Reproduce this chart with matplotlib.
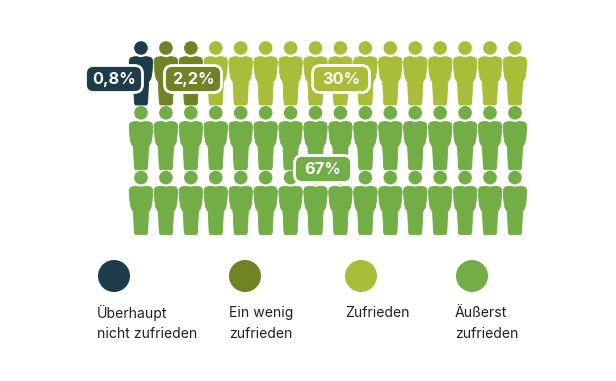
import matplotlib
matplotlib.use("Agg")
import matplotlib.pyplot as plt
from matplotlib.patches import Circle, Polygon, FancyBboxPatch

plt.rcParams['font.family'] = ['Inter', 'DejaVu Sans']

categorias = ["Überhaupt\nnicht zufrieden", "Ein wenig\nzufrieden", "Zufrieden", "Äußerst\nzufrieden"]
cores = ["#1b3c48", "#6f8224", "#a9bd38", "#72ad45"]
contagem = [1, 2, 13, 32]
percentuais = ["0,8%", "2,2%", "30%", "67%"]

colunas = 16
passo_x = 24.93
passo_y = 64.8
x0, y0 = 141, 48

# contorno de uma pessoa, relativo ao centro da cabeca
corpo = [(-5, 8.6), (-9.5, 9.4), (-11, 10.6), (-11.8, 14), (-11, 24), (-10, 30), (-8.6, 32.5), (-7.6, 34), (-6.6, 55), (-5.6, 57),
         (5.6, 57), (6.6, 55), (7.6, 34), (8.6, 32.5), (10, 30), (11, 24), (11.8, 14), (11, 10.6), (9.5, 9.4), (5, 8.6), (0, 9.6)]

fig = plt.figure(figsize=(6.16, 3.81), dpi=100)
ax = fig.add_axes([0, 0, 1, 1])
ax.set_xlim(0, 616)
ax.set_ylim(381, 0)
ax.axis("off")

sequencia = []
for cor, n in zip(cores, contagem):
    sequencia += [cor] * n

for i, cor in enumerate(sequencia):
    cx = x0 + (i % colunas) * passo_x
    cy = y0 + (i // colunas) * passo_y
    ax.add_patch(Circle((cx, cy), 6.8, fc=cor, ec="none"))
    ax.add_patch(Polygon([(cx + a, cy + b) for a, b in corpo], closed=True, fc=cor, ec=cor, lw=0.6, joinstyle="round"))


def etiqueta(texto, cor, xc, yc, larg=57):
    alt = 27
    ax.add_patch(FancyBboxPatch((xc - larg / 2, yc - alt / 2), larg, alt, boxstyle="round,pad=0,rounding_size=8",
                                fc=cor, ec="white", lw=2.0, zorder=5))
    ax.text(xc, yc + 0.5, texto, color="white", fontsize=11.8, fontweight="bold", ha="center", va="center", zorder=6)


pos_etiquetas = [(114, 79), (193, 79), (341, 79), (323, 169)]
for texto, cor, (xc, yc) in zip(percentuais, cores, pos_etiquetas):
    etiqueta(texto, cor, xc, yc)

legenda_x = [114, 245, 361, 472]
texto_x = [97, 229, 345, 455]
for cat, cor, lx, tx in zip(categorias, cores, legenda_x, texto_x):
    ax.add_patch(Circle((lx, 276), 16, fc=cor, ec="none"))
    for j, linha in enumerate(cat.split("\n")):
        ax.text(tx, 313 + j * 21, linha, color="#222222", fontsize=10.1, ha="left", va="center")

fig.savefig("out.png", dpi=100)
plt.close()
